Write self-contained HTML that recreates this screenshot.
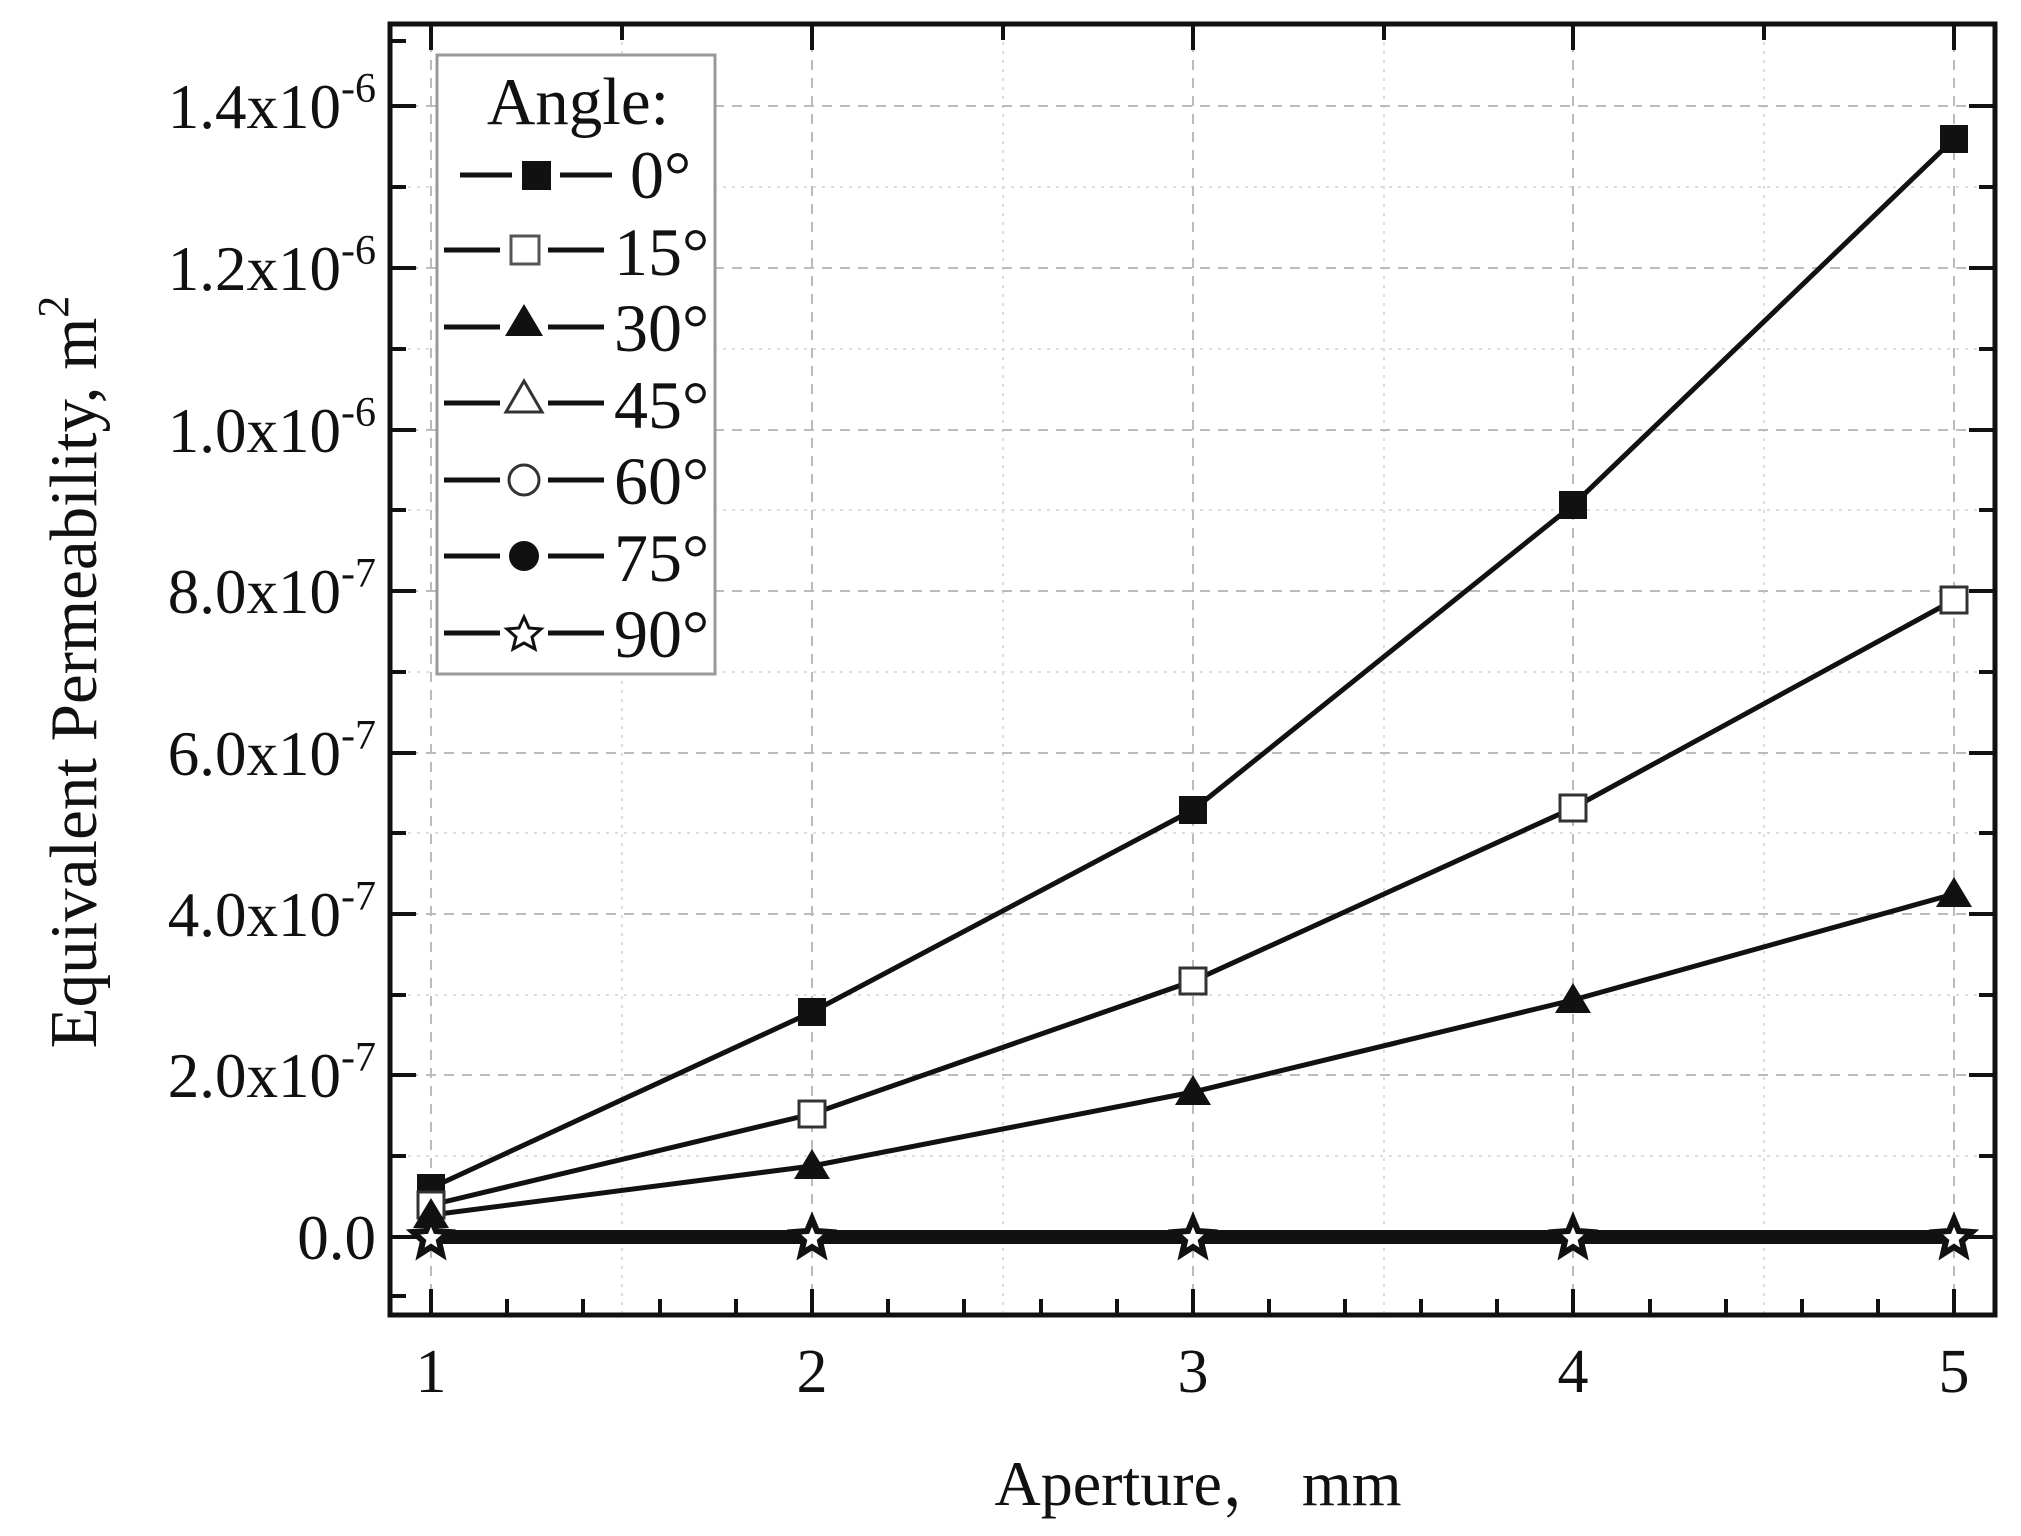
<!DOCTYPE html>
<html><head><meta charset="utf-8"><style>html,body{margin:0;padding:0;background:#fff}svg{display:block}text{font-family:"Liberation Serif",serif;fill:#111}</style></head>
<body>
<svg width="2021" height="1536" viewBox="0 0 2021 1536" xmlns="http://www.w3.org/2000/svg">
<defs>
<clipPath id="c"><rect x="390" y="24" width="1605" height="1291"/></clipPath>
</defs>
<g stroke="#bbb" stroke-width="2" fill="none">
<g stroke-dasharray="3,6" stroke="#ddd">
<path d="M390 1156H1995M390 995H1995M390 833H1995M390 672H1995M390 510H1995M390 349H1995M390 187H1995"/>
<path d="M622 24V1315M1003 24V1315M1384 24V1315M1764 24V1315"/>
</g>
<g stroke-dasharray="10,8">
<path d="M390 1237H1995M390 1075H1995M390 914H1995M390 753H1995M390 591H1995M390 430H1995M390 268H1995M390 106H1995"/>
<path d="M431 24V1315M812 24V1315M1193 24V1315M1573 24V1315M1954 24V1315"/>
</g>
</g>
<g stroke="#111" stroke-width="4">
<path d="M390 1237h26M390 1075h26M390 914h26M390 753h26M390 591h26M390 430h26M390 268h26M390 106h26"/>
<path d="M390 1156h16M390 995h16M390 833h16M390 672h16M390 510h16M390 349h16M390 187h16M390 1296h16M390 41h16"/>
<path d="M1995 1237h-26M1995 1075h-26M1995 914h-26M1995 753h-26M1995 591h-26M1995 430h-26M1995 268h-26M1995 106h-26"/>
<path d="M1995 1156h-16M1995 995h-16M1995 833h-16M1995 672h-16M1995 510h-16M1995 349h-16M1995 187h-16"/>
<path d="M431 1315v-26M812 1315v-26M1193 1315v-26M1573 1315v-26M1954 1315v-26"/>
<path d="M507 1315v-16M583 1315v-16M660 1315v-16M736 1315v-16M888 1315v-16M964 1315v-16M1041 1315v-16M1117 1315v-16M1269 1315v-16M1345 1315v-16M1421 1315v-16M1497 1315v-16M1650 1315v-16M1726 1315v-16M1802 1315v-16M1878 1315v-16"/>
<path d="M431 24v26M812 24v26M1193 24v26M1573 24v26M1954 24v26"/>
<path d="M622 24v16M1003 24v16M1384 24v16M1764 24v16"/>
</g>
<rect x="390" y="24" width="1605" height="1291" fill="none" stroke="#111" stroke-width="5"/>
<g clip-path="url(#c)" stroke="#111" stroke-width="5" fill="none">
<polyline points="431,1188 812,1012 1193,810 1573,505 1954,139"/>
<polyline points="431,1205 812,1114 1193,981 1573,808 1954,600"/>
<polyline points="431,1215 812,1166 1193,1092 1573,1000 1954,894"/>
<polyline points="431,1237 1954,1237" stroke-width="14"/>
</g>
<g fill="#111">
<rect x="417" y="1174" width="28" height="28"/><rect x="798" y="998" width="28" height="28"/><rect x="1179" y="796" width="28" height="28"/><rect x="1559" y="491" width="28" height="28"/><rect x="1940" y="125" width="28" height="28"/>
</g>
<g fill="#fff" stroke="#333" stroke-width="3">
<rect x="418" y="1192" width="26" height="26"/><rect x="799" y="1101" width="26" height="26"/><rect x="1180" y="968" width="26" height="26"/><rect x="1560" y="795" width="26" height="26"/><rect x="1941" y="587" width="26" height="26"/>
</g>
<g fill="#111">
<path d="M431 1198l18 30h-36z"/><path d="M812 1149l18 30h-36z"/><path d="M1193 1075l18 30h-36z"/><path d="M1573 983l18 30h-36z"/><path d="M1954 877l18 30h-36z"/>
</g>
<g fill="#fff" stroke="#111" stroke-width="6">
<path id="st" d="M431 1219l5 12 13 1-10 9 3 13-11-7-11 7 3-13-10-9 13-1z"/>
<use href="#st" x="381"/><use href="#st" x="762"/><use href="#st" x="1142"/><use href="#st" x="1523"/>
</g>
<rect x="437" y="55" width="278" height="619" fill="#fff" stroke="#999" stroke-width="3"/>
<text x="578" y="124" font-size="67" text-anchor="middle">Angle:</text>
<g stroke="#111" stroke-width="5">
<path d="M460 175h52M560 175h52"/>
<path d="M444 250h56M548 250h56M444 327h56M548 327h56M444 403h56M548 403h56M444 480h56M548 480h56M444 556h56M548 556h56M444 633h56M548 633h56"/>
</g>
<rect x="522" y="161" width="29" height="29" fill="#111"/>
<rect x="511" y="236" width="28" height="28" fill="#fff" stroke="#555" stroke-width="3"/>
<path d="M524 304l19 32h-38z" fill="#111"/>
<path d="M524 381l18 31h-36z" fill="#fff" stroke="#333" stroke-width="3"/>
<circle cx="524" cy="480" r="15" fill="#fff" stroke="#333" stroke-width="3"/>
<circle cx="524" cy="556" r="15" fill="#111"/>
<path d="M524 617l5 11 12 1-9 8 3 12-11-6-11 6 3-12-9-8 12-1z" fill="#fff" stroke="#111" stroke-width="3"/>
<g font-size="68">
<text x="630" y="198">0°</text>
<text x="614" y="275">15°</text><text x="614" y="351">30°</text><text x="614" y="428">45°</text><text x="614" y="504">60°</text><text x="614" y="581">75°</text><text x="614" y="657">90°</text>
</g>
<g font-size="63" text-anchor="end">
<text x="376" y="1259">0.0</text>
<text x="376" y="1097">2.0x10<tspan font-size="42" dy="-26">-7</tspan></text>
<text x="376" y="936">4.0x10<tspan font-size="42" dy="-26">-7</tspan></text>
<text x="376" y="775">6.0x10<tspan font-size="42" dy="-26">-7</tspan></text>
<text x="376" y="613">8.0x10<tspan font-size="42" dy="-26">-7</tspan></text>
<text x="376" y="452">1.0x10<tspan font-size="42" dy="-26">-6</tspan></text>
<text x="376" y="290">1.2x10<tspan font-size="42" dy="-26">-6</tspan></text>
<text x="376" y="128">1.4x10<tspan font-size="42" dy="-26">-6</tspan></text>
</g>
<g font-size="62" text-anchor="middle">
<text x="431" y="1392">1</text><text x="812" y="1392">2</text><text x="1193" y="1392">3</text><text x="1573" y="1392">4</text><text x="1954" y="1392">5</text>
</g>
<text x="1198" y="1505" font-size="64" text-anchor="middle" style='font-family:"Liberation Serif","Noto Serif CJK SC",serif'>Aperture， mm</text>
<text transform="translate(96,672) rotate(-90)" font-size="67" text-anchor="middle">Equivalent Permeability, m<tspan font-size="44" dy="-28">2</tspan></text>
</svg>
</body></html>
